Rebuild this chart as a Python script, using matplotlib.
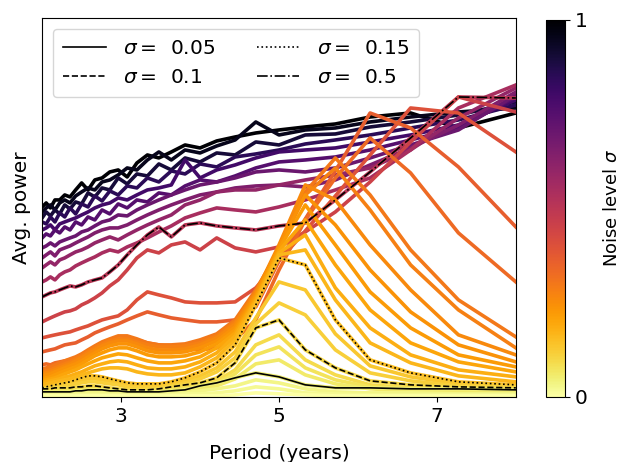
import matplotlib
matplotlib.use("Agg")
import matplotlib.pyplot as plt
from matplotlib.colors import Normalize
from matplotlib.cm import ScalarMappable

# Period grid (years)
periods = [2.0, 2.051, 2.105, 2.162, 2.222, 2.286, 2.353, 2.424, 2.5, 2.581,
           2.667, 2.759, 2.857, 2.963, 3.077, 3.2, 3.333, 3.478, 3.636, 3.81,
           4.0, 4.211, 4.444, 4.706, 5.0, 5.333, 5.714, 6.154, 6.667, 7.273, 8.0]

# Average power (arbitrary units) for each noise level sigma
p_100 = [193,197,192,200,200,205,203,210,217,210,220,222,228,230,223,237,245,242,248,255,252,259,263,267,270,273,276,283,287,272,287]
p_095 = [188,192,195,190,197,200,197,204,208,212,210,218,220,225,232,230,240,248,240,250,247,254,260,278,265,270,272,278,283,288,292]
p_090 = [182,188,184,190,186,195,191,198,196,207,203,212,210,222,216,226,224,236,230,242,238,247,245,258,255,265,266,273,278,285,298]
p_085 = [178,176,183,178,187,183,192,186,196,193,204,199,209,205,214,212,222,218,229,226,236,233,243,246,250,256,260,265,272,280,295]
p_080 = [170,172,175,170,176,178,180,182,185,188,192,195,197,202,200,205,210,212,215,240,222,230,235,242,248,250,252,258,265,275,300]
p_075 = [162,166,164,170,167,173,170,178,175,183,180,190,186,196,192,200,198,207,205,214,220,218,224,232,238,240,243,250,260,272,303]
p_070 = [152,154,157,154,158,160,162,164,168,170,174,178,180,185,184,190,195,200,205,210,215,218,222,228,230,228,232,242,255,270,305]
p_065 = [142,145,148,144,150,152,154,157,160,163,167,170,172,172,175,180,185,190,195,200,205,208,212,214,215,213,220,235,252,275,308]
p_060 = [132,135,138,135,140,142,145,148,150,153,157,160,163,160,165,170,175,180,185,195,200,208,210,210,215,220,225,232,250,282,312]
p_055 = [118,120,123,120,125,128,130,134,137,140,143,147,150,148,153,157,162,168,174,182,187,192,190,188,193,200,210,222,250,292,315]
p_050 = [103,105,107,108,110,112,114,113,115,118,120,122,128,135,145,155,165,173,163,175,177,174,172,170,174,177,200,228,262,303,302]
p_045 = [78,80,82,84,86,88,89,91,95,98,102,107,114,120,130,142,150,147,155,158,150,162,152,148,153,168,188,218,258,303,288]
p_040 = [62,63,64,65,66,67,68,70,72,74,77,80,82,84,90,100,108,105,102,98,97,97,98,112,139,169,204,245,292,287,248]
p_036 = [48,49,50,51,53,55,56,57,60,63,67,70,73,76,80,84,88,85,82,80,78,78,80,93,139,181,229,287,272,233,173]
p_033 = [35,36,35,37,38,39,40,42,44,47,50,53,57,60,62,60,57,55,53,51,50,52,60,80,130,180,222,262,227,167,118]
p_030 = [31,32,33,35,37,39,41,43,46,50,54,58,61,64,64,61,57,55,55,56,60,66,80,110,150,208,242,205,150,100,63]
p_028 = [28,29,30,32,34,36,38,41,44,48,52,56,59,61,61,58,55,53,53,54,57,64,78,108,152,205,232,190,135,90,52]
p_026 = [26,27,28,30,32,34,36,39,42,46,50,54,57,59,59,56,52,50,50,51,55,62,76,107,155,215,200,155,110,65,45]
p_024 = [24,25,26,28,30,32,34,36,39,43,47,51,54,56,56,53,49,47,47,48,52,59,73,105,153,205,175,130,88,55,38]
p_022 = [21,22,23,25,27,29,31,33,36,40,44,47,50,52,52,49,45,43,43,44,48,56,70,103,151,195,155,108,72,45,33]
p_020 = [19,20,21,22,24,26,28,30,33,36,39,42,44,46,45,42,39,37,37,39,43,52,67,101,149,180,135,90,57,38,28]
p_018 = [17,18,19,20,21,23,24,26,28,31,34,36,38,39,38,35,32,31,31,33,38,47,64,99,147,165,112,72,45,30,23]
p_0165 = [15,16,17,18,19,20,21,23,25,27,29,31,32,32,31,28,26,25,25,27,33,42,60,97,145,150,100,57,37,24,18]
p_015 = [12,13,14,15,16,17,18,20,22,24,24,23,21,19,17,16,16,16,18,22,28,37,55,95,142,135,80,40,27,18,15]
p_013 = [11,12,13,14,15,16,17,18,20,21,21,20,19,17,15,14,14,14,16,19,24,32,48,82,118,110,66,34,23,16,14]
p_0115 = [10,11,11,12,13,14,15,16,17,18,18,17,16,15,13,12,12,12,14,17,21,28,42,76,97,85,50,27,19,14,13]
p_010 = [11,11,11,12,12,12,12,13,13,14,14,13,12,11,10,10,10,11,13,15,17,22,37,72,80,50,32,19,15,13,12]
p_009 = [9,9,10,10,10,10,11,11,12,12,12,11,11,10,9,9,9,10,11,13,15,19,30,55,65,40,25,15,12,11,10]
p_0075 = [8,8,8,8,9,9,9,9,10,10,10,10,9,9,8,8,8,9,10,11,13,17,26,45,53,32,20,13,11,10,9]
p_006 = [7,7,7,7,7,8,8,8,8,8,8,8,8,7,7,7,7,8,8,9,11,14,21,36,40,25,16,11,9,8,8]
p_005 = [8,8,8,8,8,8,8,9,9,10,10,10,9,9,8,8,8,8,9,10,14,17,22,27,23,15,12,12,11,11,10]
p_0035 = [6,6,6,6,6,6,6,6,7,7,7,7,6,6,6,6,6,6,7,7,9,11,14,20,17,11,8,7,7,6,6]
p_002 = [5,5,5,5,5,5,5,5,5,5,5,5,5,5,5,5,5,5,5,6,6,7,9,13,11,7,6,5,5,5,5]
p_000 = [4,4,4,4,4,4,4,4,4,4,4,4,4,4,4,4,4,4,4,4,4,4,5,7,6,5,4,4,4,4,4]

sigmas = [1.0, 0.95, 0.9, 0.85, 0.8, 0.75, 0.7, 0.65, 0.6, 0.55, 0.5, 0.45, 0.4,
          0.36, 0.33, 0.3, 0.28, 0.26, 0.24, 0.22, 0.2, 0.18, 0.165, 0.15, 0.13,
          0.115, 0.1, 0.09, 0.075, 0.06, 0.05, 0.035, 0.02, 0.0]
series = [p_100, p_095, p_090, p_085, p_080, p_075, p_070, p_065, p_060, p_055,
          p_050, p_045, p_040, p_036, p_033, p_030, p_028, p_026, p_024, p_022,
          p_020, p_018, p_0165, p_015, p_013, p_0115, p_010, p_009, p_0075,
          p_006, p_005, p_0035, p_002, p_000]

highlight_sigmas = [0.05, 0.1, 0.15, 0.5]
highlight_styles = ['-', '--', ':', '-.']
highlight_labels = ['0.05', '0.1', '0.15', '0.5']

fig = plt.figure(figsize=(6.2, 4.62), dpi=100)
ax = fig.add_axes([0.068, 0.141, 0.764, 0.820])
cax = fig.add_axes([546 / 620, 0.141, 19 / 620, 0.816])

cmap = plt.get_cmap('inferno_r')
norm = Normalize(0, 1)

for s, vals in zip(sigmas, series):
    ax.plot(periods, vals, color=cmap(norm(s)), lw=2.6)

handles = []
for s, ls, lab in zip(highlight_sigmas, highlight_styles, highlight_labels):
    vals = series[sigmas.index(s)]
    h, = ax.plot(periods, vals, color='black', lw=1.2, ls=ls,
                 label=r'$\sigma =\,$ ' + lab)
    handles.append(h)

ax.legend(handles=handles, ncol=2, loc='upper left', fontsize=14.5,
          handlelength=2.1, handletextpad=0.85, columnspacing=2.1,
          labelspacing=0.5, borderpad=0.5, borderaxespad=0.55)

ax.set_xlim(2, 8)
ax.set_ylim(3, 382)
ax.set_xticks([3, 5, 7])
ax.set_yticks([])
ax.tick_params(axis='x', labelsize=14.5)
ax.set_xlabel('Period (years)', fontsize=14.5, labelpad=13)
ax.set_ylabel('Avg. power', fontsize=14.5, labelpad=8)

sm = ScalarMappable(norm=norm, cmap=cmap)
cb = fig.colorbar(sm, cax=cax, ticks=[0, 1])
cb.ax.set_yticklabels(['0', '1'])
cb.ax.tick_params(labelsize=14.5)
cb.set_label(r'Noise level $\sigma$', fontsize=13, labelpad=11)

fig.savefig('out.png', dpi=100)
